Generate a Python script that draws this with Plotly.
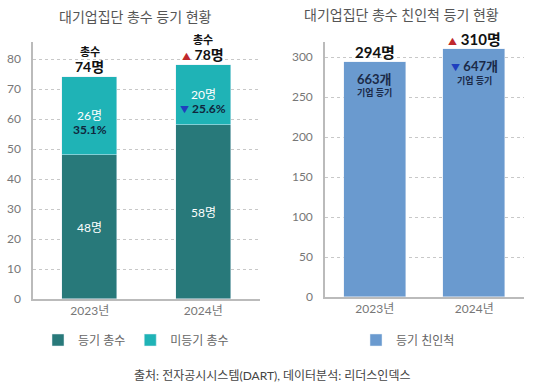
import plotly.graph_objects as go

years = ["2023년", "2024년"]
registered = [48, 58]
unregistered = [26, 20]
totals = [74, 78]
unreg_pct = ["35.1%", "25.6%"]
relatives = [294, 310]
companies = [663, 647]

W, H = 544, 389
FONT = "Lato, 'Noto Sans CJK KR', sans-serif"
DARK = "#28797a"
LIGHT = "#1fb3b6"
BLUE = "#6a9acf"
GRID = "#c8c8c8"

def px(a, b):
    return [a / W, b / W]

def py(top, bottom):
    return [(H - bottom) / H, (H - top) / H]

fig = go.Figure()
fig.add_trace(go.Bar(x=years, y=registered, name="등기 총수", marker_color=DARK,
                     width=0.485, xaxis="x", yaxis="y", legend="legend"))
fig.add_trace(go.Bar(x=years, y=unregistered, name="미등기 총수", marker_color=LIGHT,
                     width=0.485, xaxis="x", yaxis="y", legend="legend"))
fig.add_trace(go.Bar(x=years, y=relatives, name="등기 친인척", marker_color=BLUE,
                     width=0.62, xaxis="x2", yaxis="y2", legend="legend2"))

ann = []
def A(x, y, text, xref, yref, size=12, color="#111", yshift=0, bold=False, yanchor="middle"):
    ann.append(dict(x=x, y=y, xref=xref, yref=yref, text=(f"<b>{text}</b>" if bold else text),
                    showarrow=False, yshift=yshift, xanchor="center", yanchor=yanchor,
                    borderpad=0,
                    font=dict(family=FONT, size=size, color=color)))

RED_T = "<span style='color:#c0282d;font-size:9px'>▲</span> "
BLUE_T = "<span style='color:#1f3fbf;font-size:9px'>▼</span> "

for i, yr in enumerate(years):
    # left chart
    A(yr, registered[i] / 2, f"{registered[i]}명", "x", "y", size=12, color="white")
    mid = registered[i] + unregistered[i] / 2
    A(yr, mid, f"{unregistered[i]}명", "x", "y", size=12, color="white", yshift=1)
    pre = "" if i == 0 else BLUE_T
    A(yr, mid, pre + f"<b>{unreg_pct[i]}</b>", "x", "y", size=12, color="#10263d", yshift=-13)
    tpre = "" if i == 0 else RED_T
    A(yr, totals[i], tpre + f"<b>{totals[i]}명</b>", "x", "y", size=14, color="#111",
      yanchor="bottom", yshift=1)
    A(yr, totals[i], "총수", "x", "y", size=11, color="#111", bold=True, yanchor="bottom", yshift=18)
    # right chart
    rpre = "" if i == 0 else RED_T
    A(yr, relatives[i], rpre + f"<b>{relatives[i]}명</b>", "x2", "y2", size=15, color="#111",
      yanchor="bottom", yshift=0)
    cpre = "" if i == 0 else BLUE_T
    A(yr, relatives[i], cpre + f"<b>{companies[i]}개</b>", "x2", "y2", size=13, color="#1b2a48",
      yshift=-17)
    A(yr, relatives[i], "기업 등기", "x2", "y2", size=9, color="#1b2a48", bold=True, yshift=-31)

def P(x, y, text, size, color):
    ann.append(dict(x=x / W, y=(H - y) / H, xref="paper", yref="paper", showarrow=False,
                    xanchor="center", yanchor="middle", text=text,
                    font=dict(family=FONT, size=size, color=color)))

P(135, 17, "대기업집단 총수 등기 현황", 14, "#555")
P(401, 14, "대기업집단 총수 친인척 등기 현황", 14, "#555")
P(272, 375, "출처: 전자공시시스템(DART), 데이터분석: 리더스인덱스", 12, "#444")

axis_common = dict(showline=True, linecolor="#bbbbbb", linewidth=1.5, ticks="", automargin=False,
                   tickfont=dict(family=FONT, size=12, color="#777"), fixedrange=True)
yaxis_common = dict(showgrid=True, gridcolor=GRID, griddash="dot", gridwidth=1, zeroline=False,
                    showline=True, linecolor="#bbbbbb", linewidth=1.5, ticks="", automargin=False,
                    tickfont=dict(family=FONT, size=12, color="#777"), ticklabelstandoff=8)

fig.update_layout(
    width=W, height=H, margin=dict(l=0, r=0, t=0, b=0, autoexpand=False),
    paper_bgcolor="white", plot_bgcolor="white",
    barmode="stack", bargap=0,
    font=dict(family=FONT),
    xaxis=dict(domain=px(33, 260), anchor="y", **axis_common),
    yaxis=dict(domain=py(42, 299), range=[0, 85.7], dtick=10, anchor="x", **yaxis_common),
    xaxis2=dict(domain=px(325, 524), anchor="y2", **axis_common),
    yaxis2=dict(domain=py(42, 297), range=[0, 319], dtick=50, anchor="x2", **yaxis_common),
    legend=dict(orientation="h", x=136 / W, xanchor="center", y=(H - 340) / H, yanchor="middle",
                font=dict(family=FONT, size=12, color="#666"), itemwidth=30, traceorder="normal"),
    legend2=dict(orientation="h", x=408 / W, xanchor="center", y=(H - 340) / H, yanchor="middle",
                 font=dict(family=FONT, size=12, color="#666"), itemwidth=30),
    annotations=ann,
)

fig.write_html("out.html", config={"displayModeBar": False},
               post_script="document.body.style.margin='0';")
